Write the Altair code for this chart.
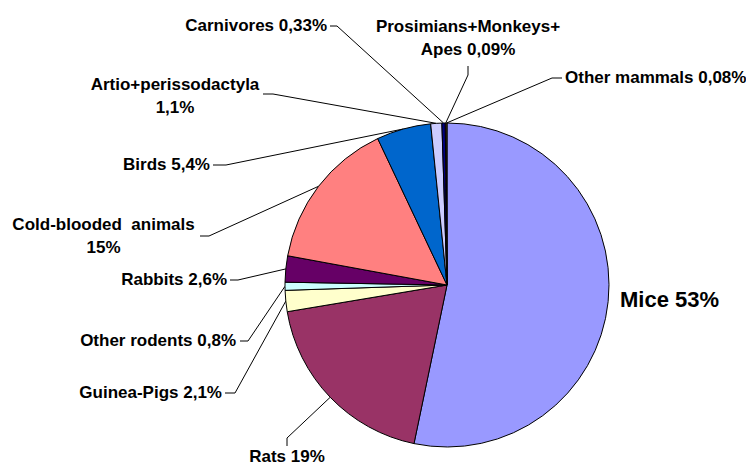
import math
import altair as alt
import pandas as pd

# ---- data ----
categories = ["Mice", "Rats", "Guinea-Pigs", "Other rodents", "Rabbits",
              "Cold-blooded animals", "Birds", "Artio+perissodactyla",
              "Carnivores", "Prosimians+Monkeys+Apes", "Other mammals"]
shares = [53, 19, 2.1, 0.8, 2.6, 15, 5.4, 1.1, 0.33, 0.09, 0.08]
label_lines = [["Mice 53%"], ["Rats 19%"], ["Guinea-Pigs 2,1%"], ["Other rodents 0,8%"],
               ["Rabbits 2,6%"], ["Cold-blooded\u00a0 animals", "15%"], ["Birds 5,4%"],
               ["Artio+perissodactyla", "1,1%"], ["Carnivores 0,33%"],
               ["Prosimians+Monkeys+", "Apes 0,09%"], ["Other mammals 0,08%"]]

# ---- styles / layout ----
colors = ["#9999FF", "#993366", "#FFFFCC", "#CCFFFF", "#660066", "#FF8080",
          "#0066CC", "#CCCCFF", "#000080", "#FF00FF", "#FFFF00"]
OFF = 8
W, H = 738, 460
CX, CY, R = 447 - OFF, 285 - OFF, 162
LINE_H = 23
# label anchor (page coords): x, y of first line centre, align, font size
label_pos = [(620, 300, "left", 22), (287, 457, "center", 17), (222, 393, "right", 17),
             (236, 341, "right", 17), (227, 280, "right", 17), (103.5, 225, "center", 17),
             (210, 165, "right", 17), (175, 85, "center", 17), (327, 26, "right", 17),
             (468, 27, "center", 17), (565, 78, "left", 17)]
# leader line start and elbow (page coords); None = no leader
leader_pts = [None, ((287, 446), (287, 438)), ((225, 393), (235, 393)),
              ((240, 341), (248, 341)), ((230, 280), (238, 280)),
              ((200, 236), (209, 236)), ((213, 165), (226, 165)),
              ((263, 94), (273, 94)), ((330, 26), (337, 26)),
              ((468, 66), (468, 75)), ((562, 78), (552, 78))]

df = pd.DataFrame({"category": categories, "share": shares, "idx": list(range(len(shares)))})

total = sum(shares)
text_rows, line_rows = [], []
cum = 0.0
for i, (cat, v) in enumerate(zip(categories, shares)):
    a = 2 * math.pi * (cum + v / 2) / total
    cum += v
    ex, ey = CX + R * math.sin(a), CY - R * math.cos(a)
    lx, ly, al, fs = label_pos[i]
    for j, t in enumerate(label_lines[i]):
        text_rows.append({"t": t, "px": lx - OFF, "py": ly - OFF + j * LINE_H, "align": al, "fs": fs})
    if leader_pts[i] is not None:
        (sx, sy), (bx, by) = leader_pts[i]
        for k, (px, py) in enumerate([(sx - OFF, sy - OFF), (bx - OFF, by - OFF), (ex, ey)]):
            line_rows.append({"category": cat, "px": px, "py": py, "k": k})

tdf = pd.DataFrame(text_rows)
ldf = pd.DataFrame(line_rows)

pie = alt.Chart(df).mark_arc(outerRadius=R, stroke="black", strokeWidth=1).encode(
    theta=alt.Theta("share:Q", stack=True),
    color=alt.Color("category:N", scale=alt.Scale(domain=categories, range=colors), legend=None),
    order=alt.Order("idx:Q"),
    x=alt.value(CX), y=alt.value(CY),
)

leaders = alt.Chart(ldf).mark_line(color="black", strokeWidth=1).encode(
    x=alt.X("px:Q", scale=None, axis=None),
    y=alt.Y("py:Q", scale=None, axis=None),
    detail="category:N",
    order="k:Q",
)

texts = []
for al in ["left", "right", "center"]:
    texts.append(
        alt.Chart(tdf).transform_filter(alt.datum.align == al).mark_text(
            align=al, baseline="middle", font="Liberation Sans", fontWeight="bold", color="black"
        ).encode(
            x=alt.X("px:Q", scale=None, axis=None),
            y=alt.Y("py:Q", scale=None, axis=None),
            text="t:N",
            size=alt.Size("fs:Q", scale=None, legend=None),
        )
    )

chart = alt.layer(leaders, pie, *texts).properties(
    width=W, height=H, padding=0, autosize=alt.AutoSizeParams(type="none")
).configure_view(stroke=None)

chart.save("out.html", embed_options={"renderer": "svg", "actions": False})
